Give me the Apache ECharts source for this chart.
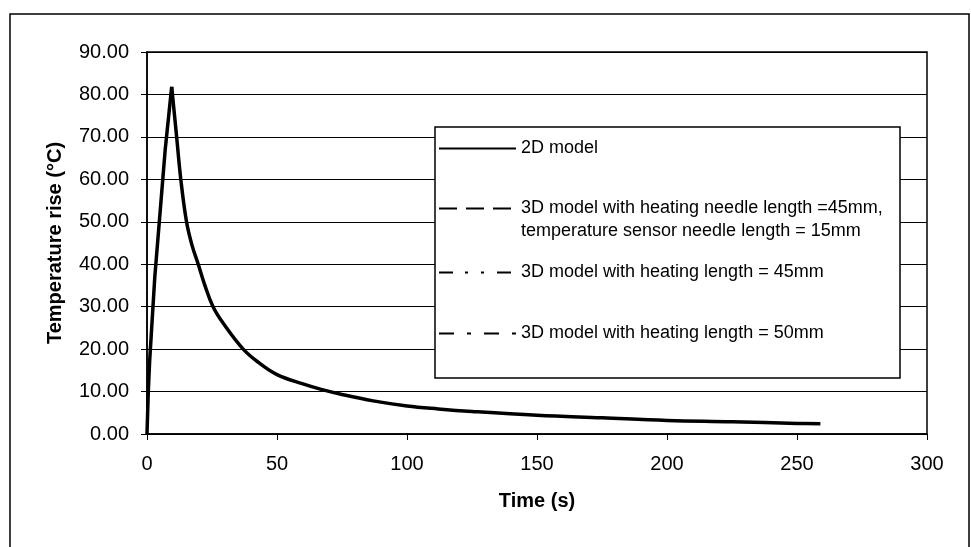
<!DOCTYPE html>
<html>
<head>
<meta charset="utf-8">
<script src="https://cdn.jsdelivr.net/npm/echarts@6/dist/echarts.min.js"></script>
<style>
  html, body { margin: 0; padding: 0; background: #fff; }
  #chart { width: 971px; height: 547px; }
</style>
</head>
<body>
<div id="chart"></div>
<script>
// 2D model curve: heating part (rise) and cooling part (decay)
const riseTimes = [0, 0.5, 1, 2, 3, 5, 7, 9.5];
const riseTemps = [0, 10, 17, 27, 37, 52, 67, 81.8];
const decayTimes = [9.5, 11.4, 13, 15.2, 17.3, 19.7, 22, 25.4, 30, 37, 43, 50, 60, 67, 75, 87, 100, 112, 125, 150, 175, 200, 225, 250, 259];
const decayTemps = [81.8, 70, 60, 50, 44.5, 40, 35.5, 30, 25.5, 20, 16.8, 14, 11.8, 10.5, 9.3, 7.8, 6.6, 5.9, 5.3, 4.4, 3.8, 3.2, 2.9, 2.5, 2.4];

const seriesNames = [
    '2D model',
    '3D model with heating needle length =45mm,\ntemperature sensor needle length = 15mm',
    '3D model with heating length = 45mm',
    '3D model with heating length = 50mm'
];
const xTicks = { min: 0, max: 300, step: 50 };
const yTicks = { min: 0, max: 90, step: 10 };

const font = 'Liberation Sans, Arial, sans-serif';
const dashes = ['solid', [18, 9], [14, 12, 3, 13, 3, 13], [15, 13, 4, 13]];
const legendTops = [137, 174, 261, 322];

function pairs(xs, ys) {
    return xs.map(function (x, k) { return [x, ys[k]]; });
}

let chart = echarts.init(document.getElementById('chart'));

let series = [
    {
        name: seriesNames[0],
        type: 'line',
        symbol: 'none',
        data: pairs(riseTimes, riseTemps),
        lineStyle: { color: '#000', width: 3.5 },
        itemStyle: { color: '#000' },
        z: 3
    },
    {
        name: seriesNames[0],
        type: 'line',
        symbol: 'none',
        smooth: 0.4,
        data: pairs(decayTimes, decayTemps),
        lineStyle: { color: '#000', width: 3.5 },
        itemStyle: { color: '#000' },
        z: 3
    }
];
// the three 3D curves are only listed in the legend, no line of theirs shows
for (let i = 1; i < seriesNames.length; i++) {
    series.push({
        name: seriesNames[i],
        type: 'line',
        symbol: 'none',
        data: [],
        lineStyle: { color: '#000', width: 2.5, type: dashes[i] },
        itemStyle: { color: '#000' }
    });
}

let legends = seriesNames.map(function (name, i) {
    return {
        data: [name],
        left: 438,
        top: legendTops[i],
        padding: 0,
        itemWidth: 77,
        itemHeight: 14,
        selectedMode: false,
        z: 10,
        itemStyle: { opacity: 0 },
        // two-line entry: blank first line so the symbol sits on the first text line
        formatter: i === 1 ? function (n) { return '\n' + n; } : '{name}',
        textStyle: {
            fontFamily: font,
            fontSize: 18,
            color: '#000',
            lineHeight: 23
        }
    };
});

chart.setOption({
    animation: false,
    backgroundColor: '#fff',
    graphic: [
        {
            type: 'rect',
            z: 0,
            shape: { x: 10, y: 14, width: 959, height: 560 },
            style: { fill: 'none', stroke: '#000', lineWidth: 1.5 }
        },
        {
            type: 'rect',
            z: 5,
            shape: { x: 435, y: 127, width: 465, height: 251 },
            style: { fill: '#fff', stroke: '#000', lineWidth: 1.5 }
        }
    ],
    legend: legends,
    grid: {
        left: 147,
        right: 44,
        top: 52,
        bottom: 113,
        show: true,
        borderColor: '#000',
        borderWidth: 1.5
    },
    xAxis: {
        type: 'value',
        min: xTicks.min,
        max: xTicks.max,
        interval: xTicks.step,
        name: 'Time (s)',
        nameLocation: 'middle',
        nameGap: 57,
        nameTextStyle: { fontFamily: font, fontSize: 20, fontWeight: 'bold', color: '#000' },
        axisLine: { show: true, lineStyle: { color: '#000', width: 1.5 } },
        axisTick: { show: true, length: 6, lineStyle: { color: '#000' } },
        axisLabel: { fontFamily: font, fontSize: 20, color: '#000', margin: 20 },
        splitLine: { show: false }
    },
    yAxis: {
        type: 'value',
        min: yTicks.min,
        max: yTicks.max,
        interval: yTicks.step,
        name: 'Temperature rise (°C)',
        nameLocation: 'middle',
        nameGap: 82,
        nameTextStyle: { fontFamily: font, fontSize: 20, fontWeight: 'bold', color: '#000' },
        axisLine: { show: true, lineStyle: { color: '#000', width: 1.5 } },
        axisTick: { show: true, length: 6, lineStyle: { color: '#000' } },
        axisLabel: {
            fontFamily: font, fontSize: 20, color: '#000', margin: 18,
            formatter: function (v) { return v.toFixed(2); }
        },
        splitLine: { show: true, lineStyle: { color: '#000', width: 1 } }
    },
    series: series
});
</script>
</body>
</html>
